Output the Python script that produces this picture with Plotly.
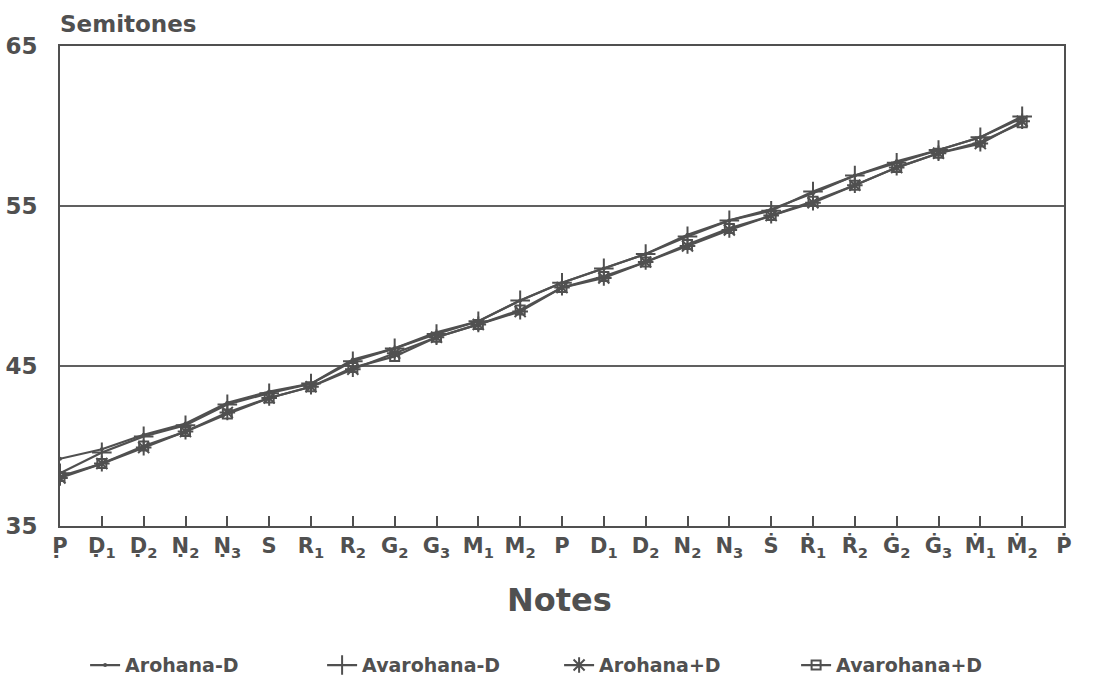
import plotly.graph_objects as go

DOT_B = "\u0323"   # dot below (lower octave)
DOT_A = "\u0307"   # dot above (upper octave)

tick_labels = [
    "P" + DOT_B, "D" + DOT_B + "<sub>1</sub>", "D" + DOT_B + "<sub>2</sub>",
    "N" + DOT_B + "<sub>2</sub>", "N" + DOT_B + "<sub>3</sub>", "S",
    "R<sub>1</sub>", "R<sub>2</sub>", "G<sub>2</sub>", "G<sub>3</sub>",
    "M<sub>1</sub>", "M<sub>2</sub>", "P",
    "D<sub>1</sub>", "D<sub>2</sub>", "N<sub>2</sub>", "N<sub>3</sub>",
    "S" + DOT_A, "R" + DOT_A + "<sub>1</sub>", "R" + DOT_A + "<sub>2</sub>",
    "G" + DOT_A + "<sub>2</sub>", "G" + DOT_A + "<sub>3</sub>",
    "M" + DOT_A + "<sub>1</sub>", "M" + DOT_A + "<sub>2</sub>", "P" + DOT_A,
]
note_index = list(range(len(tick_labels)))

arohana_minus_d = [39.2, 39.8, 40.7, 41.4, 42.7, 43.4, 43.9, 45.4, 46.1, 47.1, 47.8, 49.1,
                   50.2, 51.1, 52.0, 53.2, 54.1, 54.8, 55.8, 56.9, 57.8, 58.5, 59.3, 60.5]
avarohana_minus_d = [38.3, 39.6, 40.6, 41.3, 42.6, 43.3, 43.9, 45.3, 46.1, 47.0, 47.8, 49.1,
                     50.2, 51.1, 52.0, 53.1, 54.1, 54.7, 55.9, 56.9, 57.7, 58.5, 59.3, 60.6]
arohana_plus_d = [38.0, 38.9, 39.9, 40.9, 42.1, 43.0, 43.7, 44.8, 45.8, 46.8, 47.6, 48.4,
                  49.9, 50.5, 51.5, 52.5, 53.5, 54.4, 55.2, 56.3, 57.4, 58.3, 58.9, 60.3]
avarohana_plus_d = [38.1, 38.9, 40.0, 40.9, 42.0, 43.0, 43.7, 44.9, 45.6, 46.8, 47.6, 48.5,
                    49.9, 50.6, 51.5, 52.6, 53.6, 54.4, 55.3, 56.3, 57.4, 58.3, 59.0, 60.2]

series = [
    ("Arohana-D", arohana_minus_d, dict(symbol="circle", size=4)),
    ("Avarohana-D", avarohana_minus_d, dict(symbol="cross-thin-open", size=14, line=dict(width=2))),
    ("Arohana+D", arohana_plus_d, dict(symbol="asterisk-open", size=13, line=dict(width=2))),
    ("Avarohana+D", avarohana_plus_d, dict(symbol="square-open", size=9, line=dict(width=2))),
]

INK = "#505050"
FONT = "DejaVu Sans, Liberation Sans, Arial, sans-serif"

fig = go.Figure()
for name, vals, mk in series:
    mk = dict(mk)
    mk["color"] = INK
    if "line" in mk:
        mk["line"]["color"] = INK
    fig.add_trace(go.Scatter(
        x=note_index[:len(vals)], y=vals, name=name, mode="lines+markers",
        line=dict(color=INK, width=2.2), marker=mk,
    ))

fig.update_layout(
    width=1093, height=681,
    margin=dict(l=60, r=29, t=46, b=155, autoexpand=False),
    paper_bgcolor="white", plot_bgcolor="white",
    font=dict(family=FONT, color=INK, size=18),
    showlegend=True,
    legend=dict(orientation="h", x=0.025, y=-0.29, xanchor="left", yanchor="middle",
                font=dict(size=19, weight="bold", color=INK),
                entrywidth=192, entrywidthmode="pixels",
                tracegroupgap=0),
    xaxis=dict(
        range=[0, 24], tickmode="array", tickvals=note_index, ticktext=tick_labels,
        ticks="inside", ticklen=10, tickwidth=2, tickcolor=INK,
        showline=True, linecolor=INK, linewidth=2, mirror=True,
        showgrid=False, zeroline=False, automargin=False,
        tickfont=dict(size=21, weight="bold", color=INK),
    ),
    yaxis=dict(
        range=[35, 65], tickmode="array", tickvals=[35, 45, 55, 65],
        ticks="", showline=True, linecolor=INK, linewidth=2, mirror=True,
        showgrid=True, gridcolor="#606060", gridwidth=1.5, zeroline=False,
        automargin=False,
        tickfont=dict(size=23, weight="bold", color=INK), ticklabelstandoff=16,
    ),
    annotations=[
        dict(text="Semitones", xref="paper", yref="paper", x=-0.002, y=1.046,
             xanchor="left", yanchor="middle", showarrow=False,
             font=dict(size=23, weight="bold", color=INK)),
        dict(text="Notes", xref="paper", yref="paper", x=0.498, y=-0.155,
             xanchor="center", yanchor="middle", showarrow=False,
             font=dict(size=32, weight="bold", color=INK)),
    ],
)

fig.write_html("out.html")
